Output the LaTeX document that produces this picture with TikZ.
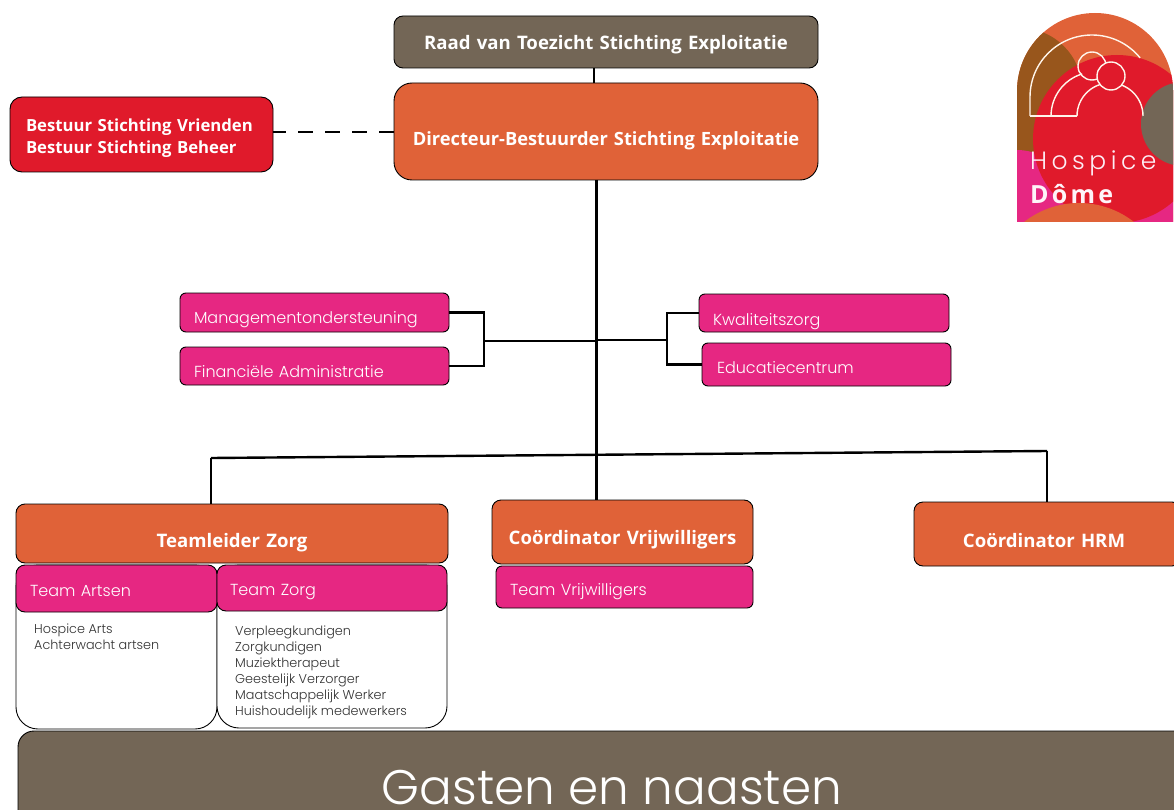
\documentclass[tikz,border=0pt]{standalone}
\usepackage{fontspec}
\setmainfont{Poppins}
\newfontfamily\lightf{Poppins Light}
\newfontfamily\boldf{Open Sans}[BoldFont={Open Sans Bold}]
\definecolor{hdorange}{HTML}{E06238}
\definecolor{hdpink}{HTML}{E62782}
\definecolor{hdred}{HTML}{E01A2B}
\definecolor{hdtaupe}{HTML}{736656}
\definecolor{hdbrown}{HTML}{98561C}
\definecolor{hdtext}{HTML}{333333}
\newcommand{\sh}[2]{\raisebox{#1pt}[\height][\depth]{#2}}
\tikzset{
  basebox/.style={draw=black,line width=0.9pt,rounded corners=#1,inner sep=0pt,outer sep=0pt,anchor=north west,text=white},
  orangebox/.style={basebox=9pt,fill=hdorange,align=center,font=\boldf\bfseries\fontsize{18.6}{22}\selectfont},
  pinkbox/.style={basebox=6pt,fill=hdpink,align=left,font=\lightf\fontsize{16}{20}\selectfont},
  whitebox/.style={basebox=22pt,fill=white},
  conn/.style={draw=black,line width=2.4pt},
  listtxt/.style={anchor=north west,inner sep=0pt,align=left,text=hdtext,font=\lightf\fontsize{12.8}{16}\selectfont},
  logoline/.style={draw=white!92!orange,line width=1.4pt}
}
\newcommand{\bx}[7]{\node[#6,minimum width={(#4-#2)*1pt},minimum height={(#5-#3)*1pt},text width={(#4-#2)*1pt}] (#1) at (#2,#3) {#7};}
\begin{document}
\begin{tikzpicture}[x=1pt,y=-1pt]
\useasboundingbox (0,0) rectangle (1174,810);
% boxes
\bx{raad}{394}{16}{818}{68}{orangebox,fill=hdtaupe}{\sh{-3}{Raad van Toezicht Stichting Exploitatie}}
\bx{dir}{394}{83}{818}{180}{orangebox,basebox=18pt,font=\boldf\bfseries\fontsize{18.3}{22}\selectfont}{\sh{-9}{Directeur-Bestuurder Stichting Exploitatie}}
\bx{best}{10}{97}{273}{172}{orangebox,basebox=12pt,fill=hdred,align=left,font=\boldf\bfseries\fontsize{16.7}{22}\selectfont}{\hspace*{16pt}\sh{-3.5}{Bestuur Stichting Vrienden}\\\hspace*{16pt}\sh{-3.5}{Bestuur Stichting Beheer}}
\bx{mgmt}{180}{293}{449}{332}{pinkbox}{\hspace*{14pt}\sh{-7.5}{Managementondersteuning}}
\bx{fin}{180}{347}{449}{385}{pinkbox}{\hspace*{14pt}\sh{-5.5}{Financiële Administratie}}
\bx{kwal}{699}{294}{949}{332}{pinkbox}{\hspace*{14pt}\sh{-9}{Kwaliteitszorg}}
\bx{edu}{702}{343}{951}{386}{pinkbox}{\hspace*{15pt}\sh{-3}{Educatiecentrum}}
\bx{tz}{16}{504}{448}{563}{orangebox}{\sh{-9}{Teamleider Zorg}}
\bx{cv}{492}{500}{753}{564}{orangebox}{\sh{-8}{Coördinator Vrijwilligers}}
\bx{hrm}{914}{502}{1181}{566}{orangebox}{\hspace*{-7pt}\sh{-7}{Coördinator HRM}}
\bx{artsenW}{16}{565}{217}{729}{whitebox}{}
\bx{zorgW}{217}{565}{447}{728}{whitebox}{}
\bx{artsen}{16}{565}{217}{612}{pinkbox,basebox=9pt}{\hspace*{14pt}\sh{-2}{Team Artsen}}
\bx{zorg}{217}{565}{447}{611}{pinkbox,basebox=9pt}{\hspace*{13pt}\sh{-4}{Team Zorg}}
\bx{vrij}{496}{566}{753}{608}{pinkbox}{\hspace*{14pt}\sh{-5}{Team Vrijwilligers}}
\bx{gast}{18}{731}{1210}{850}{basebox=16pt,fill=hdtaupe}{}
\node[anchor=base,inner sep=0pt,text=white,font=\lightf\fontsize{48.5}{56}\selectfont] (gastT) at (612,804) {Gasten en naasten};
\node[listtxt] (artsenL) at (34,624) {Hospice Arts\\Achterwacht artsen};
\node[listtxt] (zorgL) at (235,626) {Verpleegkundigen\\Zorgkundigen\\Muziektherapeut\\Geestelijk Verzorger\\Maatschappelijk Werker\\Huishoudelijk medewerkers};
% connectors
\coordinate (raadX) at (594,0);
\coordinate (bus) at (596.5,454);
\coordinate (brL) at (484,341);
\coordinate (brR) at (667,340);
\coordinate (busL) at (211,458);
\coordinate (busR) at (1047,451);
\draw[conn] (raad.south -| raadX) -- (dir.north -| raadX);
\draw[conn,dash pattern=on 15pt off 12pt,dash phase=2pt] (best.east) ++(0,-2.5) -- (dir.west |- 0,132);
\draw[conn] (bus |- dir.south) -- (bus |- cv.north);
\draw[conn] (mgmt.east) -| (brL) |- (fin.east);
\draw[conn] (brL) -- (bus |- brL);
\draw[conn] (kwal.west) -| (brR) |- (edu.west);
\draw[conn] (bus |- brR) -- (brR);
\draw[conn] (busL) -- (busR);
\draw[conn] (busL) -- (busL |- tz.north);
\draw[conn] (busR) -- (busR |- hrm.north);
% logo
\begin{scope}
\clip (1017,222) -- (1017,91) arc[start angle=180,end angle=360,radius=78] -- (1173,222) -- cycle;
\fill[hdorange] (1010,5) rectangle (1180,230);
\fill[hdpink] (1010,150) rectangle (1180,230);
\fill[hdbrown] (1020,90) circle[radius=62];
\fill[hdbrown] (1010,90) rectangle (1050,152);
\fill[hdpink] (1017,205) circle[radius=55];
\fill[hdred] (1117,139) circle[radius=84];
\fill[hdtaupe] (1183,124) circle[radius=42];
\fill[hdorange] (1079,292) circle[radius=89];
\end{scope}
\draw[logoline] (1030,116) -- (1030,97) arc[start angle=180,end angle=321,radius=62];
\draw[logoline] (1030,116) -- (1077,116);
\draw[logoline] (1051,116) arc[start angle=180,end angle=253,radius=44];
\draw[logoline] (1092,66) circle[radius=14];
\draw[logoline] (1077,116) arc[start angle=180,end angle=360,radius=33];
\draw[logoline,fill=hdred] (1111,76) circle[radius=14];
\node[anchor=base west,inner sep=0pt,text=white!92!hdpink,font=\lightf\fontsize{25}{28}\selectfont\addfontfeature{LetterSpace=18}] (logoA) at (1030,170) {Hospice};
\node[anchor=base west,inner sep=0pt,text=white!95!hdpink,font=\boldf\bfseries\fontsize{25}{28}\selectfont\addfontfeature{LetterSpace=13}] (logoB) at (1030,204) {Dôme};
\end{tikzpicture}
\end{document}
